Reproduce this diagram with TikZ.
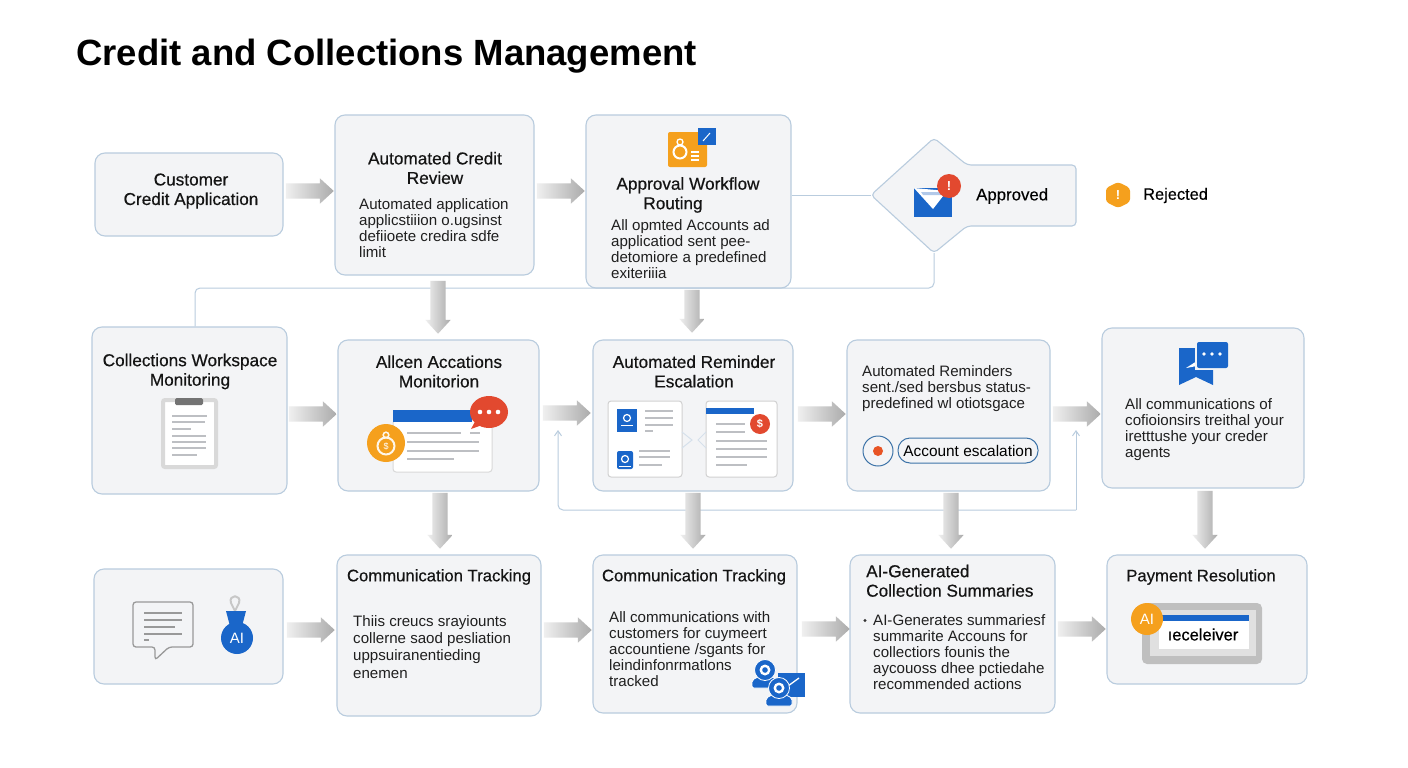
\documentclass[tikz,border=0pt]{standalone}
\usepackage{fontspec}
\usepackage{xcolor}
\setmainfont{Liberation Sans}
\newfontfamily\headfont[FakeBold=0.5]{Liberation Sans}
\newfontfamily\labelfont[FakeBold=0.25]{Liberation Sans}
\usetikzlibrary{shapes.geometric, shapes.arrows, arrows.meta, positioning, calc}

\definecolor{boxfill}{HTML}{F3F4F6}
\definecolor{boxline}{HTML}{B9CCDE}
\definecolor{iconblue}{HTML}{1A66C9}
\definecolor{iconorange}{HTML}{F5A01D}
\definecolor{iconred}{HTML}{E2492F}
\definecolor{inkgray}{HTML}{BDBFC3}
\definecolor{pilledge}{HTML}{3D73A8}

\tikzset{
  flowbox/.style={draw=boxline, fill=boxfill, line width=1.1pt, rounded corners=10pt, inner sep=0pt},
  thinline/.style={draw=boxline, line width=1pt, rounded corners=5pt},
  flowarrow/.style={single arrow, shape border uses incircle=false, inner xsep=0pt, inner ysep=7.5pt,
    single arrow head extend=5pt, single arrow tip angle=85, left color=black!6, right color=black!33, draw=none,
    sloped, allow upside down, pos=0, anchor=tail},
  headtext/.style={font=\headfont\fontsize{17.2}{19.5}\selectfont, align=center, inner sep=0pt, text=black!92},
  trackhead/.style={headtext, font=\headfont\fontsize{16.7}{19.5}\selectfont},
  bodytext/.style={font=\fontsize{15.1}{16}\selectfont, align=left, anchor=north west, inner sep=0pt, text=black!88},
  grayline/.style={draw=inkgray, line width=2pt},
  paperbox/.style={draw=black!15, fill=white, line width=1pt, rounded corners=3pt}
}

\begin{document}
\begin{tikzpicture}[x=1pt,y=-1pt]
\useasboundingbox (0,0) rectangle (1408,768);
\fill[white] (0,0) rectangle (1408,768);

\node[font=\bfseries\fontsize{36.5}{40}\selectfont, anchor=west, inner sep=0pt] (title) at (76,56) {Credit and Collections Management};

% connecting thin lines
\coordinate (decleft) at (871,195);
\coordinate (dectop) at (934,138);
\coordinate (decbot) at (934,253);
\coordinate (busline) at (195,288);
\coordinate (fbleft) at (558,430);
\coordinate (fbright) at (1076,430);
\coordinate (fbline) at (558,510);

% row 1
\node[flowbox, minimum width=188, minimum height=83] (cust) at (189,194.5) {};
\node[flowbox, minimum width=199, minimum height=160] (review) at (434.5,195) {};
\node[flowbox, minimum width=205, minimum height=173] (approval) at (688.5,201.5) {};
% row 2
\node[flowbox, minimum width=195, minimum height=167] (coll) at (189.5,410.5) {};
\node[flowbox, minimum width=201, minimum height=151] (monitor) at (438.5,415.5) {};
\node[flowbox, minimum width=200, minimum height=151] (remind) at (693,415.5) {};
\node[flowbox, minimum width=203, minimum height=151] (auto) at (948.5,415.5) {};
\node[flowbox, minimum width=202, minimum height=160] (comm) at (1203,408) {};
% row 3
\node[flowbox, minimum width=189, minimum height=115] (chat) at (188.5,626.5) {};
\node[flowbox, minimum width=204, minimum height=161] (trackone) at (439,635.5) {};
\node[flowbox, minimum width=204, minimum height=158] (tracktwo) at (695,634) {};
\node[flowbox, minimum width=205, minimum height=158] (summ) at (952.5,634) {};
\node[flowbox, minimum width=200, minimum height=129] (pay) at (1207,619.5) {};

% decision shape
\draw[flowbox, rounded corners=4pt] (decleft) -- (dectop) -- (967,165) -- (1076,165) -- (1076,226) -- (967,226) -- (decbot) -- cycle;

\draw[thinline] (approval.east |- decleft) -- (decleft);
\draw[thinline] (decbot) -- (decbot |- busline) -- (busline) -- (coll.north -| busline);
\draw[thinline, -{Straight Barb[length=5pt,width=7pt]}] (fbline -| fbright) -- (fbright);
\draw[thinline, -{Straight Barb[length=5pt,width=7pt]}] (fbline -| fbright) -- (fbline) -- (fbleft);

% block arrows
\foreach \a/\b/\y/\d in {cust/review/191/2, review/approval/191/2, coll/monitor/414/1, monitor/remind/413/3, remind/auto/414/4, auto/comm/414/2,
  chat/trackone/630/3, trackone/tracktwo/630/2, tracktwo/summ/629/4, summ/pay/629/2}
  \path ($(\a.east |- 0,\y)+(\d,0)$) -- (\b.west |- 0,\y) node[flowarrow, minimum height=48] {};
\foreach \a/\b/\x/\len/\d in {review/monitor/438/53/5, approval/remind/692/43/1, monitor/trackone/440/56/1,
  remind/tracktwo/693/56/1, auto/summ/951/56/1, comm/pay/1205/58/2}
  \path ($(\a.south -| \x,0)+(0,\d)$) -- (\b.north -| \x,0) node[flowarrow, minimum height=\len] {};

% texts row 1
\node[headtext] (custtext) at (191,191) {Customer\\Credit Application};
\node[headtext] (reviewtitle) at (435,168) {Automated Credit\\Review};
\node[bodytext] (reviewbody) at (359,198) {Automated application\\applicstiiion o.ugsinst\\defiioete credira sdfe\\limit};
\node[headtext] (approvaltitle) at (688,195) {Approval Workflow\\\hspace*{-30pt}Routing};
\node[bodytext] (approvalbody) at (611,219) {All opmted Accounts ad\\applicatiod sent pee-\\detomiore a predefined\\exiteriiia};
\node[font=\labelfont\fontsize{16.8}{18}\selectfont, anchor=west, inner sep=0pt] (approved) at (976,196) {Approved};
\node[font=\labelfont\fontsize{16.4}{18}\selectfont, anchor=west, inner sep=0pt] (rejected) at (1143,195.5) {Rejected};

% texts row 2
\node[headtext] (colltitle) at (190,371.5) {Collections Workspace\\Monitoring};
\node[headtext] (monitortitle) at (439,371.5) {Allcen Accations\\Monitorion};
\node[headtext] (remindtitle) at (694,371.5) {Automated Reminder\\Escalation};
\node[bodytext] (autobody) at (862,365) {Automated Reminders\\sent./sed bersbus status-\\predefined wl otiotsgace};
\node[bodytext] (commbody) at (1125,398) {All communications of\\cofioionsirs treithal your\\iretttushe your creder\\agents};

% texts row 3
\node[trackhead] (trackonetitle) at (439,577) {Communication Tracking};
\node[bodytext, font=\fontsize{15.1}{17.3}\selectfont] (trackonebody) at (353,615) {Thiis creucs srayiounts\\collerne saod pesliation\\uppsuiranentieding\\enemen};
\node[trackhead] (tracktwotitle) at (694,577) {Communication Tracking};
\node[bodytext] (tracktwobody) at (609,611) {All communications with\\customers for cuymeert\\accountiene /sgants for\\leindinfonrmatlons\\tracked};
\node[headtext, align=left, anchor=north west] (summtitle) at (866,564.5) {AI-Generated\\Collection Summaries};
\node[bodytext] (summbody) at (873,614) {AI-Generates summariesf\\summarite Accouns for\\collectiors founis the\\aycouoss dhee pctiedahe\\recommended actions};
\fill[black!80] (865,620.5) circle[radius=1.6];
\node[trackhead] (paytitle) at (1201,577) {Payment Resolution};

% approval icon
\fill[iconorange, rounded corners=2pt] (668,132) rectangle (707,167);
\fill[iconblue] (698,128) rectangle (716,145);
\draw[white, line width=1pt] (703,141) -- (710,133);
\draw[white, line width=2pt] (680,152) circle[radius=6.5];
\draw[white, line width=1.3pt] (680,142) circle[radius=3];
\draw[white, line width=1.2pt] (691,152) -- (699,152) (691,156) -- (699,156) (691,160) -- (699,160);

% envelope and badges
\fill[iconblue] (914,188) rectangle (952,217);
\fill[white] (914,188) -- (933,209) -- (947,191) -- cycle;
\fill[boxfill!70!iconblue] (921,192) -- (943,192) -- (941,195) -- (923,195) -- cycle;
\fill[iconred] (949,186) circle[radius=12];
\node[font=\bfseries\fontsize{13}{14}\selectfont, text=white, inner sep=0pt] (badgered) at (949,186) {!};
\fill[iconorange, rounded corners=3pt] (1118,182) -- (1130,188) -- (1130,202) -- (1118,208) -- (1106,202) -- (1106,188) -- cycle;
\node[font=\bfseries\fontsize{13}{14}\selectfont, text=white, inner sep=0pt] (badgeorange) at (1118,195) {!};

% clipboard
\draw[draw=black!15, fill=white, line width=4pt, rounded corners=2pt] (163,400) rectangle (216,467);
\fill[black!55, rounded corners=1.5pt] (175,398) rectangle (203,405);
\foreach \xb/\y in {207/416, 205/422, 191/429, 206/436, 206/442, 206/448, 197/455}
  \draw[grayline, line width=1.6pt] (172,\y) -- (\xb,\y);

% monitor icon
\draw[paperbox] (393,420) rectangle (492,472);
\fill[iconblue] (393,410) rectangle (472,422);
\foreach \xa/\xb/\y in {407/461/433, 470/480/433, 407/479/442, 407/479/451, 407/454/459}
  \draw[grayline, line width=2.4pt] (\xa,\y) -- (\xb,\y);
\fill[iconred] (471,429) -- (477,418) -- (485,424) -- cycle;
\fill[iconred] (489,412) ellipse [x radius=19, y radius=16];
\foreach \x in {480,489,498} \fill[white] (\x,412) circle[radius=2.3];
\fill[iconorange] (386,443) circle[radius=19];
\draw[white!90!iconorange, line width=2pt] (386,446) circle[radius=8.5];
\draw[white!90!iconorange, line width=1.5pt] (386,435) circle[radius=2.8];
\node[font=\fontsize{9}{10}\selectfont, text=white, inner sep=0pt] (moneymark) at (386,446) {\$};

% reminder icons
\draw[paperbox, draw=black!18] (608,401) rectangle (682,477);
\draw[paperbox, draw=black!18] (706,401) rectangle (777,477);
\draw[boxline!60, line width=1pt] (682,432) -- (692,440) -- (682,448);
\draw[boxline!60, line width=1pt] (706,432) -- (698,440) -- (706,448);
\fill[iconblue] (617,409) rectangle (637,432);
\fill[iconblue, rounded corners=2pt] (617,451) rectangle (633,469);
\foreach \x/\y in {627/418, 625/459} {
  \draw[white, line width=1.2pt] (\x,\y) circle[radius=3.5];
  \draw[white, line width=.8pt] (\x-6,\y+7) -- (\x+6,\y+7);
}
\foreach \xa/\xb/\y in {645/673/411, 645/673/418, 645/673/425, 645/653/431, 639/670/451, 639/670/457, 639/662/465,
  716/745/424, 716/745/432, 716/767/441, 716/767/449, 716/767/457, 716/747/465}
  \draw[grayline] (\xa,\y) -- (\xb,\y);
\fill[iconblue] (706,408) rectangle (754,414);
\fill[iconred] (760,424) circle[radius=10];
\node[font=\bfseries\fontsize{11}{12}\selectfont, text=white, inner sep=0pt] (dollarmark) at (760,424) {\$};

% escalation pill
\draw[draw=pilledge, line width=1pt] (878,451) circle[radius=15];
\fill[iconred!80!orange] (878,451) circle[radius=5];
\node[draw=pilledge, line width=1pt, rounded corners=12pt, minimum width=140, minimum height=25, inner sep=0pt, font=\fontsize{15.4}{16}\selectfont] (pill) at (968,450.5) {Account escalation};

% speech icon
\fill[iconblue] (1179,348) -- (1213,348) -- (1213,385) -- (1196,377) -- (1179,385) -- cycle;
\fill[white] (1186,368) -- (1197,361) -- (1197,366) -- cycle;
\fill[boxfill] (1195,340) rectangle (1230,370);
\fill[iconblue, rounded corners=2pt] (1197,342) rectangle (1228,368);
\foreach \x in {1204,1212,1220} \fill[white] (\x,354) circle[radius=1.9];

% chat icon
\draw[draw=black!40, fill=boxfill, line width=1.3pt, rounded corners=3pt] (133,602) -- (193,602) -- (193,647) -- (169,647) -- (155,660) -- (155,647) -- (133,647) -- cycle;
\foreach \xb/\y in {182/613, 182/620, 175/627, 182/634} \draw[grayline, draw=black!40, line width=1.3pt] (144,\y) -- (\xb,\y);
\draw[black!40, line width=1.3pt] (144,640) -- (149,640);

% AI flask
\draw[draw=black!22, line width=2pt] (231,603) -- (235,611) -- (239,603) .. controls (242,594) and (228,594) .. (231,603);
\fill[iconblue] (226,611) -- (246,611) -- (241,630) -- (231,630) -- cycle;
\fill[iconblue] (237,638) circle[radius=16];
\node[font=\fontsize{15}{16}\selectfont, text=white, inner sep=0pt] (aiblue) at (237,638) {AI};

% persons icon
\fill[iconblue] (778,673) rectangle (805,697);
\draw[white, line width=1.3pt] (788,686) -- (799,678);
\foreach \x/\y in {765/670, 779/688} {
  \fill[iconblue, draw=white, line width=.8pt, rounded corners=2pt] (\x-13,\y+18) -- (\x-13,\y+10) -- (\x-5,\y+6) -- (\x+5,\y+6) -- (\x+13,\y+10) -- (\x+13,\y+18) -- cycle;
  \fill[iconblue, draw=white, line width=.8pt] (\x,\y) circle[radius=10.5];
  \fill[white] (\x,\y) circle[radius=5.5];
  \fill[iconblue] (\x,\y) circle[radius=2.8];
}

% payment icon
\fill[black!25, rounded corners=5pt] (1142,603) rectangle (1262,664);
\fill[black!12] (1150,610) rectangle (1256,656);
\fill[white] (1159,615) rectangle (1249,649);
\fill[iconblue] (1159,615) rectangle (1249,621);
\fill[iconorange] (1147,619) circle[radius=16];
\node[font=\fontsize{15}{16}\selectfont, text=white, inner sep=0pt] (aiorange) at (1147,619) {AI};
\node[font=\headfont\fontsize{16.5}{18}\selectfont, inner sep=0pt] (paylabel) at (1203,634.5) {ıeceleiver};

\end{tikzpicture}
\end{document}
